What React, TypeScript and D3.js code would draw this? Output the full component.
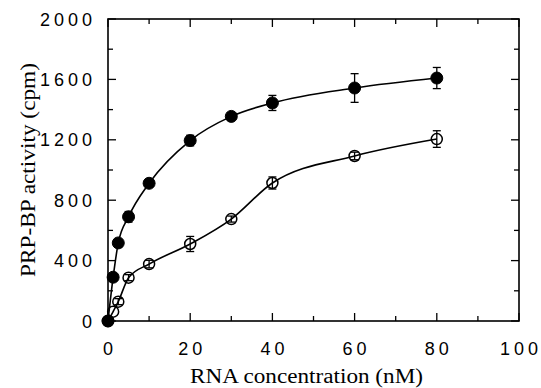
import React, { useEffect, useRef } from 'react';
import * as d3 from 'd3';

// RNA concentration (nM)
const conc = [0, 1.25, 2.5, 5, 10, 20, 30, 40, 60, 80];
// PRP-BP activity (cpm), filled circles
const filledVals = [0, 290, 517, 690, 912, 1195, 1355, 1444, 1543, 1609];
const filledErr = [0, 0, 20, 35, 20, 35, 20, 50, 95, 70];
// open circles
const openVals = [0, 62, 128, 287, 377, 510, 675, 914, 1093, 1205];
const openErr = [0, 0, 20, 20, 25, 50, 20, 40, 25, 55];

const xTickLabels = [0, 20, 40, 60, 80, 100];
const yTickLabels = [0, 400, 800, 1200, 1600, 2000];

const W = 541;
const H = 388;

export default function App() {
  const ref = useRef<SVGSVGElement>(null);

  useEffect(() => {
    const svg = d3.select(ref.current);
    svg.selectAll('*').remove();

    const x = d3.scaleLinear().domain([0, 100]).range([108, 519]);
    const y = d3.scaleLinear().domain([0, 2000]).range([321, 19]);
    const [x0, x1] = x.range();
    const [y0, y1] = y.range();

    // frame
    svg.append('rect')
      .attr('x', x0).attr('y', y1)
      .attr('width', x1 - x0).attr('height', y0 - y1)
      .attr('fill', 'none').attr('stroke', '#000').attr('stroke-width', 1.6);

    // ticks, inward on all four sides
    const tk = svg.append('g').attr('stroke', '#000').attr('stroke-width', 1.3);
    d3.range(0, 101, 10).forEach(v => {
      const len = v % 20 === 0 ? 8 : 5;
      tk.append('line').attr('x1', x(v)).attr('x2', x(v)).attr('y1', y0).attr('y2', y0 - len);
      tk.append('line').attr('x1', x(v)).attr('x2', x(v)).attr('y1', y1).attr('y2', y1 + len);
    });
    d3.range(0, 2001, 200).forEach(v => {
      const len = v % 400 === 0 ? 8 : 5;
      tk.append('line').attr('y1', y(v)).attr('y2', y(v)).attr('x1', x0).attr('x2', x0 + len);
      tk.append('line').attr('y1', y(v)).attr('y2', y(v)).attr('x1', x1).attr('x2', x1 - len);
    });

    // tick labels
    const ls = 4;
    svg.append('g')
      .selectAll('text').data(xTickLabels).enter().append('text')
      .attr('x', d => x(d) + ls / 2).attr('y', 355)
      .attr('text-anchor', 'middle')
      .style('font-family', '"Liberation Sans", Arial, sans-serif')
      .style('font-size', '18px').style('letter-spacing', `${ls}px`)
      .text(d => d);
    svg.append('g')
      .selectAll('text').data(yTickLabels).enter().append('text')
      .attr('x', 92 + ls).attr('y', d => y(d) + 6.5)
      .attr('text-anchor', 'end')
      .style('font-family', '"Liberation Sans", Arial, sans-serif')
      .style('font-size', '18px').style('letter-spacing', `${ls}px`)
      .text(d => d);

    // axis titles
    svg.append('text')
      .attr('x', 190).attr('y', 383)
      .attr('textLength', 233).attr('lengthAdjust', 'spacingAndGlyphs')
      .style('font-family', '"Liberation Serif", "Times New Roman", serif')
      .style('font-size', '20px')
      .text('RNA concentration (nM)');
    svg.append('text')
      .attr('transform', 'translate(35,277) rotate(-90)')
      .attr('textLength', 214).attr('lengthAdjust', 'spacingAndGlyphs')
      .style('font-family', '"Liberation Serif", "Times New Roman", serif')
      .style('font-size', '20px')
      .text('PRP-BP activity (cpm)');

    const line = d3.line<number>()
      .x((_, i) => x(conc[i]))
      .y(d => y(d))
      .curve(d3.curveMonotoneX);

    const drawSeries = (vals: number[], errs: number[], filled: boolean) => {
      const g = svg.append('g');
      g.append('path')
        .attr('d', line(vals))
        .attr('fill', 'none').attr('stroke', '#000').attr('stroke-width', 1.6);
      vals.forEach((v, i) => {
        const e = errs[i];
        if (e <= 0) return;
        const cx = x(conc[i]);
        g.append('line').attr('x1', cx).attr('x2', cx).attr('y1', y(v - e)).attr('y2', y(v + e))
          .attr('stroke', '#000').attr('stroke-width', 1.3);
        [v - e, v + e].forEach(b => {
          g.append('line').attr('x1', cx - 4).attr('x2', cx + 4).attr('y1', y(b)).attr('y2', y(b))
            .attr('stroke', '#000').attr('stroke-width', 1.3);
        });
      });
      g.selectAll('circle').data(vals).enter().append('circle')
        .attr('cx', (_, i) => x(conc[i]))
        .attr('cy', d => y(d))
        .attr('r', filled ? 6 : 5.5)
        .attr('fill', filled ? '#000' : 'none')
        .attr('stroke', '#000').attr('stroke-width', filled ? 1 : 1.5);
    };

    drawSeries(openVals, openErr, false);
    drawSeries(filledVals, filledErr, true);
  }, []);

  return (
    <svg ref={ref} width={W} height={H} style={{ position: 'absolute', left: 0, top: 0, background: '#fff' }} />
  );
}
